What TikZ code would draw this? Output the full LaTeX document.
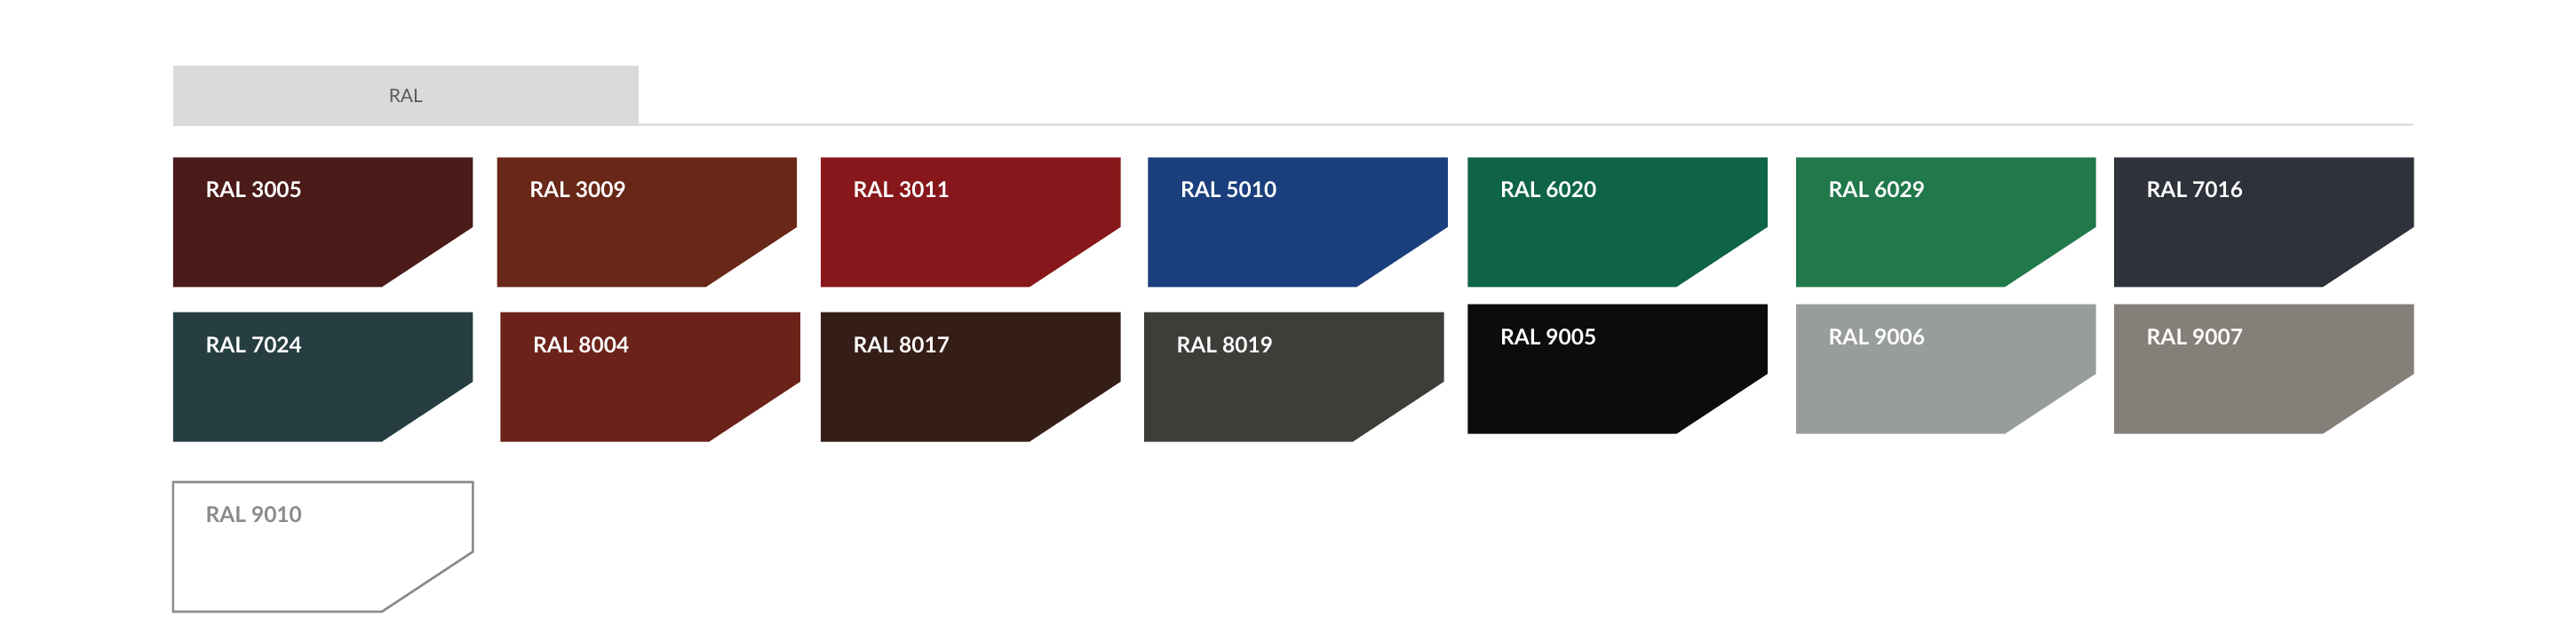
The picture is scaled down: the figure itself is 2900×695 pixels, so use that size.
\documentclass[tikz,border=0pt]{standalone}
\usepackage{fontspec}
\setmainfont{Lato}
\definecolor{tabgray}{HTML}{DADADA}
\definecolor{rulegray}{HTML}{E0E0E0}
\definecolor{tabtext}{HTML}{5A5A5A}
\definecolor{ral3005}{HTML}{4A1B18}
\definecolor{ral3009}{HTML}{692718}
\definecolor{ral3011}{HTML}{87171A}
\definecolor{ral5010}{HTML}{1B3E7C}
\definecolor{ral6020}{HTML}{0F6446}
\definecolor{ral6029}{HTML}{21784B}
\definecolor{ral7016}{HTML}{2F323B}
\definecolor{ral7024}{HTML}{263E42}
\definecolor{ral8004}{HTML}{6A2219}
\definecolor{ral8017}{HTML}{351E17}
\definecolor{ral8019}{HTML}{3C3E39}
\definecolor{ral9005}{HTML}{0B0C0E}
\definecolor{ral9006}{HTML}{989D9C}
\definecolor{ral9007}{HTML}{857F79}
\definecolor{ral9010}{HTML}{8A8A8A}

\begin{document}
\begin{tikzpicture}[
        x=1pt, y=-1pt,
        chip/.pic={\fill[pic actions] (0,0) -- (337.5,0) -- (337.5,78.4) -- (235,146) -- (0,146) -- cycle;},
        ralname/.style={anchor=base west, inner sep=0pt, text=white,
                        font=\bfseries\fontsize{24.5}{29}\selectfont},
        ]
    \useasboundingbox (0,0) rectangle (2900,695);
    % tab bar
    \coordinate (rulestart) at (194.9,140.7);
    \coordinate (ruleend) at (2717,140.7);
    \draw[rulegray, line width=2.6pt] (rulestart) -- (ruleend);
    \node[fill=tabgray, anchor=north west, minimum width=523.5pt, minimum height=67.7pt,
          inner sep=0pt, text=tabtext, font=\fontsize{21}{25}\selectfont] (tab) at (194.9,74) {RAL};
    % first row
    \pic[fill=ral3005] at (194.9,177.3) {chip};
    \node[ralname] (r3005) at (231.4,223) {RAL 3005};
    \pic[fill=ral3009] at (559.7,177.3) {chip};
    \node[ralname] (r3009) at (596.2,223) {RAL 3009};
    \pic[fill=ral3011] at (924,177.3) {chip};
    \node[ralname] (r3011) at (960.5,223) {RAL 3011};
    \pic[fill=ral5010] at (1292.3,177.3) {chip};
    \node[ralname] (r5010) at (1328.8,223) {RAL 5010};
    \pic[fill=ral6020] at (1652.3,177.3) {chip};
    \node[ralname] (r6020) at (1688.8,223) {RAL 6020};
    \pic[fill=ral6029] at (2022,177.3) {chip};
    \node[ralname] (r6029) at (2058.5,223) {RAL 6029};
    \pic[fill=ral7016] at (2380,177.3) {chip};
    \node[ralname] (r7016) at (2416.5,223) {RAL 7016};
    % second row
    \pic[fill=ral7024] at (194.9,351.5) {chip};
    \node[ralname] (r7024) at (231.4,397.2) {RAL 7024};
    \pic[fill=ral8004] at (563.3,351.5) {chip};
    \node[ralname] (r8004) at (599.8,397.2) {RAL 8004};
    \pic[fill=ral8017] at (924,351.5) {chip};
    \node[ralname] (r8017) at (960.5,397.2) {RAL 8017};
    \pic[fill=ral8019] at (1288,351.5) {chip};
    \node[ralname] (r8019) at (1324.5,397.2) {RAL 8019};
    \pic[fill=ral9005] at (1652.3,342.7) {chip};
    \node[ralname] (r9005) at (1688.8,388.4) {RAL 9005};
    \pic[fill=ral9006] at (2022,342.7) {chip};
    \node[ralname] (r9006) at (2058.5,388.4) {RAL 9006};
    \pic[fill=ral9007] at (2380,342.7) {chip};
    \node[ralname] (r9007) at (2416.5,388.4) {RAL 9007};
    % third row
    \pic[fill=white, draw=ral9010, line width=2.6pt] at (194.9,543) {chip};
    \node[ralname, text=ral9010] (r9010) at (231.4,588.7) {RAL 9010};
\end{tikzpicture}
\end{document}
